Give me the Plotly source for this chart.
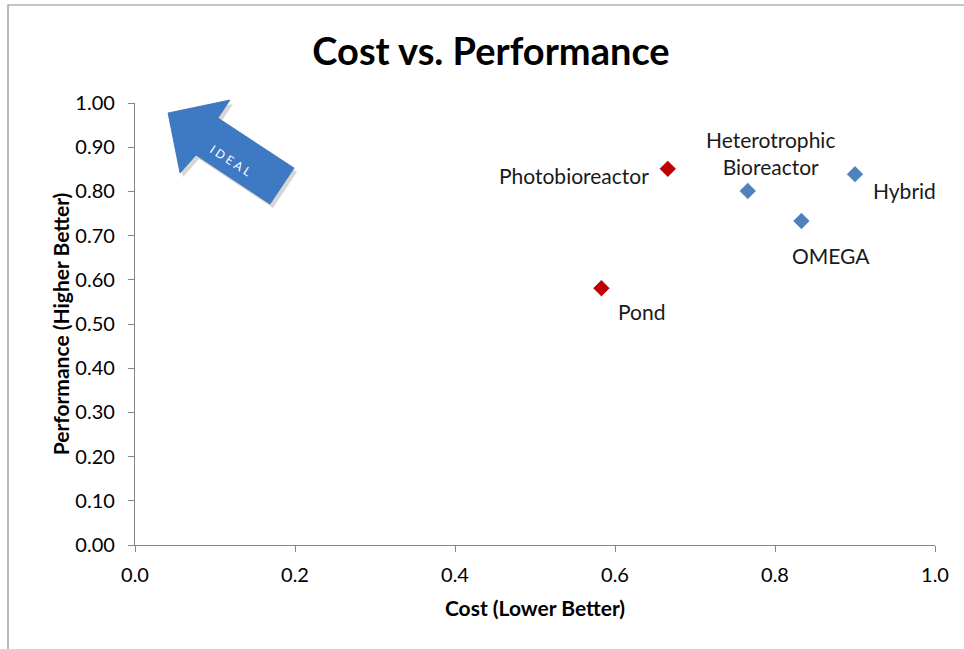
import plotly.graph_objects as go

# data
names = ["Photobioreactor", "Pond", "Heterotrophic<br>Bioreactor", "OMEGA", "Hybrid"]
cost = [0.666, 0.583, 0.766, 0.833, 0.900]
performance = [0.851, 0.581, 0.801, 0.733, 0.839]
group = ["red", "red", "blue", "blue", "blue"]

# label offsets (pixels) relative to each marker
lab_anchor = ["right", "left", "center", "center", "left"]
lab_dx = [-17, 15, 23, 30, 16]
lab_dy = [-7, -23, 38, -34, -16]

colors = {"red": "#C00000", "blue": "#4F81BD"}
FONT = "Lato, 'Open Sans', sans-serif"

W, H = 964, 649
L, R, T, B = 135, 29, 103, 104
pw, ph = W - L - R, H - T - B


def px(x, y):
    # page pixel -> paper coords
    return (x - L) / pw, (H - B - y) / ph


def path(pts):
    s = ""
    for i, (x, y) in enumerate(pts):
        a, b = px(x, y)
        s += ("M" if i == 0 else "L") + f"{a:.4f},{b:.4f} "
    return s + "Z"


fig = go.Figure()

for g in ["red", "blue"]:
    idx = [i for i, k in enumerate(group) if k == g]
    fig.add_trace(go.Scatter(
        x=[cost[i] for i in idx], y=[performance[i] for i in idx],
        mode="markers", showlegend=False,
        marker=dict(symbol="diamond", size=13, color=colors[g],
                    line=dict(width=0.6, color="white"))))

for i, n in enumerate(names):
    fig.add_annotation(x=cost[i], y=performance[i], text=n, showarrow=False,
                       xanchor=lab_anchor[i], yanchor="middle",
                       xshift=lab_dx[i], yshift=lab_dy[i],
                       font=dict(size=21, color="#1a1a1a", family=FONT))

# decorative "IDEAL" arrow
arrow_px = [(168, 113), (230, 100), (218, 118), (294, 168), (270, 204), (196, 155), (180, 173)]
fig.add_shape(type="path", xref="paper", yref="paper",
              path=path([(x + 3, y + 4) for x, y in arrow_px]),
              fillcolor="rgba(0,0,0,0.16)", line=dict(width=0))
fig.add_shape(type="path", xref="paper", yref="paper", path=path(arrow_px),
              fillcolor="#3E79C4", line=dict(color="#3A6FB0", width=0.8))

cx, cy = px(231, 160)
fig.add_annotation(x=cx, y=cy, xref="paper", yref="paper",
                   text="I  D  E  A  L".replace(" ", "&#8201;"),
                   showarrow=False, textangle=33, xanchor="center", yanchor="middle",
                   font=dict(size=12, color="white", family=FONT))

# chart border
bx0, by0 = px(8, 5)
bx1, by1 = px(990, 680)
fig.add_shape(type="rect", xref="paper", yref="paper", x0=bx0, y0=by0, x1=bx1, y1=by1,
              line=dict(color="#8c8c8c", width=1.2), layer="below")

fig.update_layout(
    width=W, height=H,
    margin=dict(l=L, r=R, t=T, b=B),
    paper_bgcolor="white", plot_bgcolor="white",
    font=dict(family=FONT, color="black"),
    title=dict(text="<b>Cost vs. Performance</b>", x=491 / W, xanchor="center",
               y=1 - 52 / H, yanchor="middle", font=dict(size=38, family=FONT)),
    xaxis=dict(range=[0, 1], dtick=0.2, tickformat=".1f", showgrid=False, zeroline=False,
               showline=True, linecolor="#868686", linewidth=1.2,
               ticks="outside", ticklen=6, tickcolor="#868686", ticklabelstandoff=6,
               tickfont=dict(size=20), automargin=False,
               title=dict(text="<b>Cost (Lower Better)</b>", font=dict(size=21), standoff=16)),
    yaxis=dict(range=[0, 1], dtick=0.1, tickformat=".2f", showgrid=False, zeroline=False,
               showline=True, linecolor="#868686", linewidth=1.2,
               ticks="outside", ticklen=6, tickcolor="#868686", ticklabelstandoff=9,
               tickfont=dict(size=20), automargin=False,
               title=dict(text="<b>Performance (Higher Better)</b>", font=dict(size=21), standoff=0)),
)

fig.write_html("out.html", config={"displayModeBar": False},
               post_script="document.body.style.margin='0';")
